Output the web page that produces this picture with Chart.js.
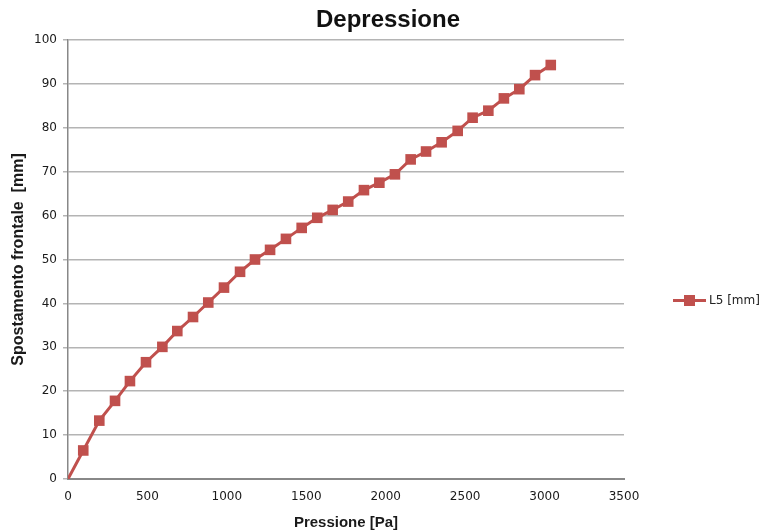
<!DOCTYPE html>
<html>
<head>
<meta charset="utf-8">
<script src="https://cdn.jsdelivr.net/npm/chart.js@4.4.0/dist/chart.umd.min.js"></script>
<style>
  html, body { margin: 0; padding: 0; background: #fff; }
  #wrap { position: relative; width: 765px; height: 532px; }
  #title { position: absolute; left: 0; width: 776px; top: 5px; text-align: center; font: bold 24px "Liberation Sans", Arial, sans-serif; color: #111; }
  #legend { position: absolute; left: 673px; top: 293px; font: 12px "DejaVu Sans", sans-serif; color: #222; display: flex; align-items: center; }
  #legend .ln { position: relative; width: 33px; height: 3px; background: #c0504d; margin-right: 3px; }
  #legend .mk { position: absolute; left: 11px; top: -4px; width: 11px; height: 11px; background: #c0504d; }
</style>
</head>
<body>
<div id="wrap">
  <canvas id="chart" width="765" height="532"></canvas>
  <div id="title">Depressione</div>
  <div id="legend"><span class="ln"><span class="mk"></span></span><span>L5 [mm]</span></div>
</div>
<script>
// --- data ---
const pressione = [0, 96, 197, 296, 390, 491, 594, 688, 787, 883, 982, 1083, 1177, 1272, 1372, 1471,
  1569, 1666, 1764, 1863, 1960, 2058, 2157, 2254, 2352, 2453, 2547, 2646, 2744, 2841, 2940, 3039];
const spostamento = [0, 6.5, 13.3, 17.8, 22.3, 26.6, 30.1, 33.7, 36.9, 40.2, 43.6, 47.2, 50.0, 52.2, 54.7, 57.2,
  59.5, 61.3, 63.2, 65.8, 67.5, 69.4, 72.8, 74.6, 76.7, 79.3, 82.3, 83.9, 86.7, 88.8, 92.0, 94.3];
const xTicks = [0, 500, 1000, 1500, 2000, 2500, 3000, 3500];
const yTicks = [0, 10, 20, 30, 40, 50, 60, 70, 80, 90, 100];

const red = '#c0504d';
const tickFont = { family: "'DejaVu Sans', sans-serif", size: 12 };
const xTitleFont = { family: "'Liberation Sans', Arial, sans-serif", size: 15, weight: 'bold' };
const yTitleFont = { family: "'Liberation Sans', Arial, sans-serif", size: 16, weight: 'bold' };

new Chart(document.getElementById('chart'), {
  type: 'line',
  data: {
    datasets: [{
      label: 'L5 [mm]',
      data: pressione.map((p, i) => ({ x: p, y: spostamento[i] })),
      borderColor: red,
      backgroundColor: red,
      borderWidth: 3,
      pointStyle: 'rect',
      pointRadius: pressione.map((p, i) => i === 0 ? 0 : 7.5),
      pointBorderWidth: 0,
      tension: 0
    }]
  },
  options: {
    responsive: false,
    animation: false,
    layout: { padding: { left: 0, right: 141, top: 40, bottom: 0 } },
    plugins: {
      legend: { display: false },
      tooltip: { enabled: false },
      title: { display: false }
    },
    scales: {
      x: {
        type: 'linear',
        min: 0, max: 3500,
        afterBuildTicks: s => { s.ticks = xTicks.map(v => ({ value: v })); },
        afterFit: s => { s.height = 53; },
        grid: { display: false, drawTicks: false },
        border: { color: '#888', width: 2 },
        ticks: { color: '#1a1a1a', font: tickFont, padding: 11, callback: v => String(v) },
        title: { display: true, text: 'Pressione [Pa]', color: '#1a1a1a', font: xTitleFont, padding: { top: 0, bottom: 0 } }
      },
      y: {
        min: 0, max: 100,
        afterBuildTicks: s => { s.ticks = yTicks.map(v => ({ value: v })); },
        afterFit: s => { s.width = 68; },
        grid: { color: '#b4b4b4', lineWidth: 1.5, tickLength: 5 },
        border: { color: '#888', width: 1.5 },
        ticks: { color: '#1a1a1a', font: tickFont, padding: 6, callback: v => String(v) },
        title: { display: true, text: 'Spostamento frontale  [mm]', color: '#1a1a1a', font: yTitleFont, padding: { top: 9, bottom: 0 } }
      }
    }
  }
});
</script>
</body>
</html>
